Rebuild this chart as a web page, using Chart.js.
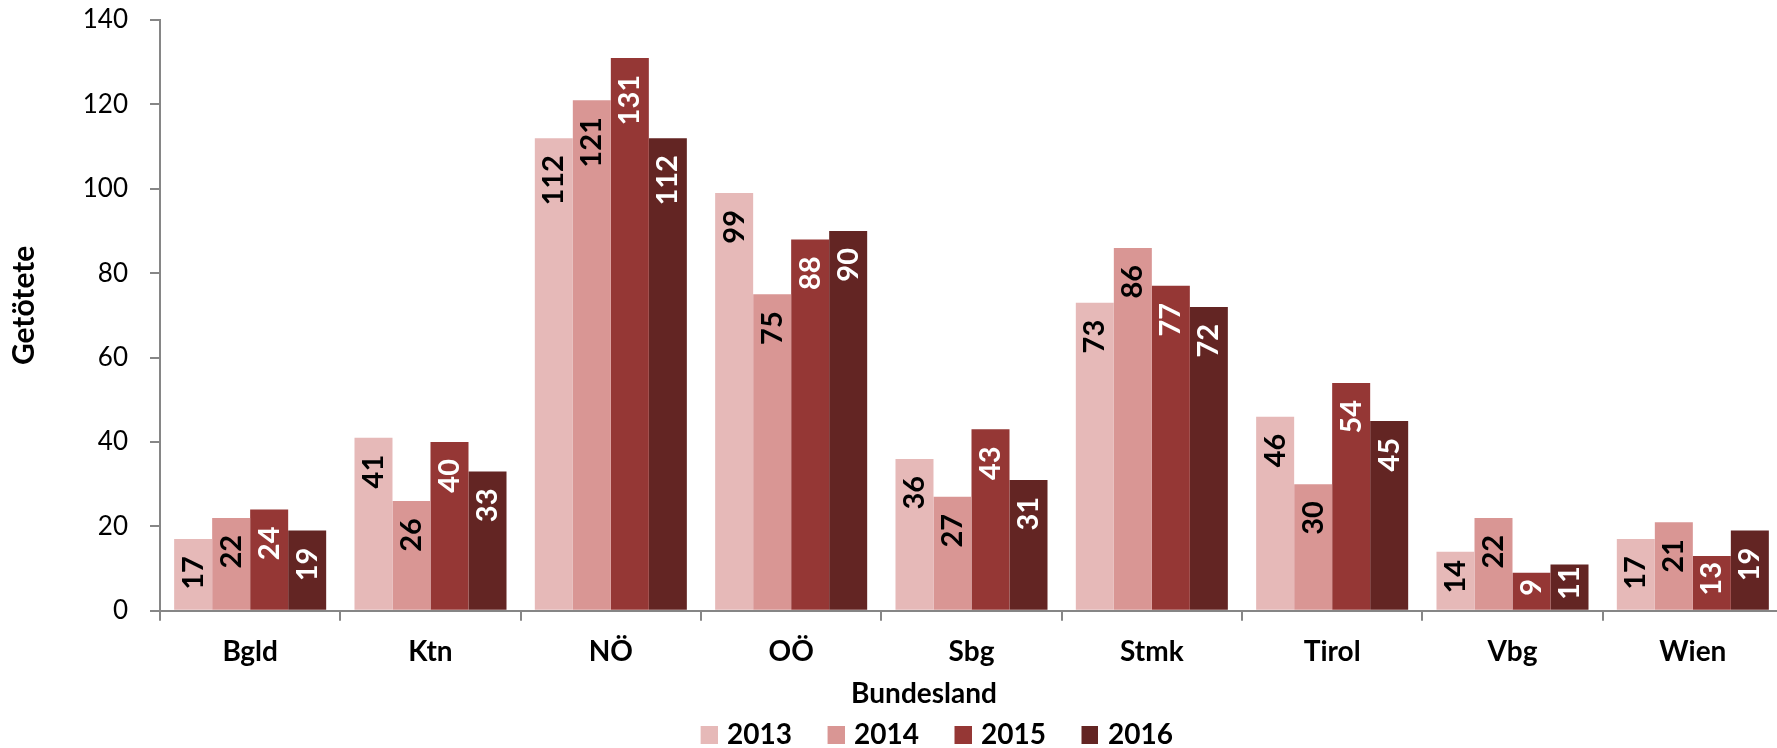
<!DOCTYPE html>
<html>
<head>
<meta charset="utf-8">
<script src="https://cdn.jsdelivr.net/npm/chart.js@4.4.0/dist/chart.umd.min.js"></script>
<style>
  html, body { margin: 0; padding: 0; background: #fff; overflow: hidden; }
  #wrap { position: relative; width: 1790px; height: 759px; }
</style>
</head>
<body>
<div id="wrap"><canvas id="myChart"></canvas></div>
<script>
var bundeslaender = ['Bgld', 'Ktn', 'NÖ', 'OÖ', 'Sbg', 'Stmk', 'Tirol', 'Vbg', 'Wien'];
var years = ['2013', '2014', '2015', '2016'];
var values2013 = [17, 41, 112, 99, 36, 73, 46, 14, 17];
var values2014 = [22, 26, 121, 75, 27, 86, 30, 22, 21];
var values2015 = [24, 40, 131, 88, 43, 77, 54, 9, 13];
var values2016 = [19, 33, 112, 90, 31, 72, 45, 11, 19];
var yTicks = [0, 20, 40, 60, 80, 100, 120, 140];
var barColors = ['#E6B9B8', '#D99694', '#953735', '#632523'];
var labelColors = ['#000000', '#000000', '#ffffff', '#ffffff'];
var yTitle = 'Getötete';

var FONT = 'Lato';

// legend swatch: square sits close to the text, extra room goes before it
function swatch(color) {
    var c = document.createElement('canvas');
    c.width = 47; c.height = 18;
    var g = c.getContext('2d');
    g.fillStyle = color;
    g.fillRect(30, 0, 17, 18);
    return c;
}
var swatches = barColors.map(swatch);

// vertical value labels inside the bar end
var barLabels = {
    id: 'barLabels',
    afterDatasetsDraw: function(chart) {
        var ctx = chart.ctx;
        ctx.save();
        ctx.font = 'bold 29px ' + FONT;
        ctx.textBaseline = 'middle';
        chart.data.datasets.forEach(function(ds, i) {
            chart.getDatasetMeta(i).data.forEach(function(bar, j) {
                var txt = String(ds.data[j]);
                var w = ctx.measureText(txt).width;
                var h = bar.base - bar.y;
                ctx.save();
                ctx.fillStyle = labelColors[i];
                if (w + 30 > h) {
                    ctx.translate(bar.x, (bar.y + bar.base) / 2 - 4);
                    ctx.rotate(-Math.PI / 2);
                    ctx.textAlign = 'center';
                } else {
                    ctx.translate(bar.x, bar.y + 17);
                    ctx.rotate(-Math.PI / 2);
                    ctx.textAlign = 'right';
                }
                ctx.fillText(txt, 0, 0);
                ctx.restore();
            });
        });
        ctx.restore();
    }
};

// y axis title, sitting a little above the middle of the axis like the original
var yAxisTitle = {
    id: 'yAxisTitle',
    afterDraw: function(chart) {
        var ctx = chart.ctx;
        var area = chart.chartArea;
        ctx.save();
        ctx.translate(24, (area.top + area.bottom) / 2 - 10);
        ctx.rotate(-Math.PI / 2);
        ctx.font = 'bold 30px ' + FONT;
        ctx.fillStyle = '#000';
        ctx.textAlign = 'center';
        ctx.textBaseline = 'middle';
        ctx.fillText(yTitle, 0, 0);
        ctx.restore();
    }
};

var ctx = document.getElementById('myChart').getContext('2d');
var chart = new Chart(ctx, {
    type: 'bar',
    data: {
        labels: bundeslaender,
        datasets: [values2013, values2014, values2015, values2016].map(function(vals, i) {
            return {
                label: years[i],
                data: vals,
                backgroundColor: barColors[i],
                borderWidth: 0,
                categoryPercentage: 0.843,
                barPercentage: 1
            };
        })
    },
    options: {
        responsive: true,
        maintainAspectRatio: false,
        animation: false,
        layout: { padding: { top: 0, right: 7, bottom: 0, left: 65 } },
        scales: {
            x: {
                grid: { drawOnChartArea: false, drawTicks: true, tickLength: 10, color: '#868686', lineWidth: 2, offset: true },
                border: { display: true, color: '#868686', width: 2 },
                ticks: { color: '#000', font: { family: FONT, size: 28, weight: 'bold', lineHeight: 1 }, padding: 17.4, maxRotation: 0, autoSkip: false }
            },
            y: {
                min: 0,
                max: 140,
                afterBuildTicks: function(s) { s.ticks = yTicks.map(function(v) { return { value: v }; }); },
                afterFit: function(s) { s.width = 95; s.paddingTop = 20; },
                grid: { drawOnChartArea: false, drawTicks: true, tickLength: 10, color: '#868686', lineWidth: 2 },
                border: { display: true, color: '#868686', width: 2 },
                ticks: { color: '#000', font: { family: FONT, size: 26 }, padding: 22 }
            }
        },
        plugins: {
            title: {
                display: true,
                text: 'Bundesland',
                position: 'bottom',
                weight: 500,
                color: '#000',
                font: { family: FONT, size: 28, weight: 'bold', lineHeight: 20 / 28 },
                padding: { top: 0.4, bottom: 7 }
            },
            legend: {
                position: 'bottom',
                weight: 1000,
                labels: {
                    usePointStyle: true,
                    pointStyleWidth: 38,
                    padding: 10,
                    color: '#000',
                    font: { family: FONT, size: 28, weight: 'bold' },
                    generateLabels: function(chart) {
                        var items = Chart.defaults.plugins.legend.labels.generateLabels(chart);
                        items.forEach(function(it, i) { it.pointStyle = swatches[i]; });
                        return items;
                    }
                }
            },
            tooltip: { enabled: false }
        }
    },
    plugins: [barLabels, yAxisTitle]
});
</script>
</body>
</html>
